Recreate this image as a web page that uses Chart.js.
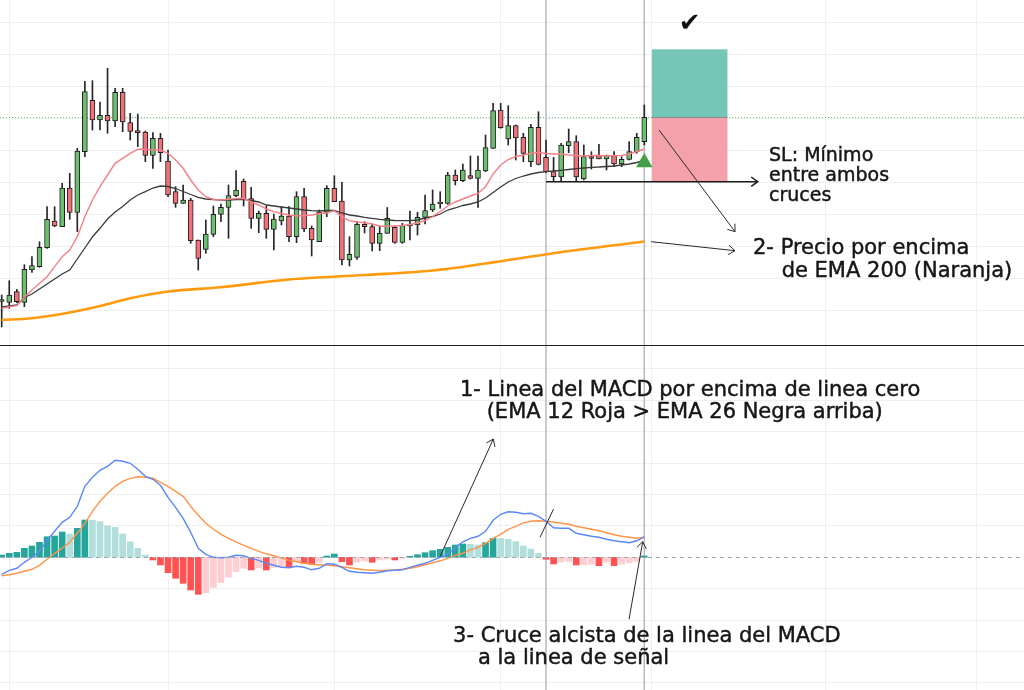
<!DOCTYPE html>
<html>
<head>
<meta charset="utf-8">
<script src="https://cdn.jsdelivr.net/npm/chart.js@4.4.1/dist/chart.umd.min.js"></script>
<style>
  html, body { margin: 0; padding: 0; background: #ffffff; }
  #wrap { width: 1024px; height: 690px; position: relative; overflow: hidden; }
</style>
</head>
<body>
<div id="wrap"><canvas id="chart" width="1024" height="690"></canvas></div>
<script>
// ---- Price candles (one entry per session) ----
const opens  = [43.5,42.7,53.3,42.7,75,78.3,97.3,124,118.3,157, 132.7,193.3,244.7,225,229.7,224,252.7,222.5,214.3,213, 189.7,206.7,184,153.3,141.7,145,105,95.7,110.7,130.7, 137.7,149.3,163.7,146.3,126.7,131.7,115.7,124,129,108.3, 148.3,116.7,103.3,132.7,156.7,144,85,87.7,120.7,118.3, 101.7,111.7,117.7,102.7,119,120,127.7,135,141,141.7, 170,164.3,169.3,166.7,174,196.7,235,206,219.3,207.7, 183.3,217.7,187.7,173.3,168,199.3,203.3,166,188.5,189.3, 186,189.3,181,185.7,193.3,203.3];
const highs  = [50,64.3,55.7,80.3,88.3,103.3,138.3,138.3,161.7,171.7, 196.7,263.7,264.3,243,276.7,256.7,256.7,231.7,231,214, 212.3,211.7,195,158.3,160,146.7,105,125,139,141, 160,174.3,166,157.7,134,139,131,138.3,138.3,153.3, 156.7,119,135,159.3,169.3,162.7,108.3,123.3,123.3,121, 119,137.5,119,121.7,134,132.7,150,155,153.3,172.7, 175,181,189,189,210,241.7,241.7,239.3,220,211.7, 220.7,233.3,205,187.7,201.7,216,209.3,200,193.3,200.7, 190,193.3,188.3,203.3,211.7,240];
const lows   = [18,36.7,42.3,38.3,72.7,77.7,96.7,118.3,118.3,125.7, 113.3,188.3,215,215,211.7,218.3,213.3,205,198.3,183.3, 176.7,183.3,148.3,137.7,141.7,101.7,75,91.7,108.3,123.3, 106.7,148.3,139,116.7,112.3,106.7,95,120,103.3,102.3, 113.3,89,103.3,128.3,143.3,80,79,85.7,112,94, 94.3,111.7,101.7,101.7,105,110,121,133.3,136.7,140.7, 160,163.3,166,137.7,173.3,196.7,216.7,200,185,183.3, 178.3,180,172.3,164,164,192.3,163.3,165,176,186, 175,178.3,178.3,185,191.7,200];
const closes = [45.5,50,43.3,75.7,79.3,97.7,125.7,119,157,132.7, 194,253.3,225,229.7,224,252.7,223,213.5,212.3,189.7, 206.7,192.3,150,141.7,145,104.3,86.7,111,130.7,137.7, 149.3,155,146.3,126.7,131.7,115.7,126,129,108.3,148.3, 116,105,133,156.7,143.3,85,90.7,120.7,118.3,101.7, 111.7,126.7,102.7,119.3,121,127.7,134.3,141,143,170, 164.3,175,166.7,175,197.3,234.3,217.3,219.3,207,191.7, 217.7,180.7,173.3,168.3,200,203.3,168,188.3,186.5,186, 189.3,181,185.7,193.3,207.7,227.7];

// ---- Moving averages on price ----
const emaFast = [36.7,38.3,39.3,47.7,55,61.7,68.3,78.3,88.3,95, 108.3,128.3,145,158.3,170,181.7,186.7,191.7,195.7,196, 195,195,191.7,185,176.7,165,155,148.3,145.5,145, 145.7,146.5,146.7,143,140,136,133.3,131.5,130,129, 129.5,130,131.5,132,134.3,128,124.3,123,122.3,121, 119,118.5,119,119.5,120.5,122,124.5,128.5,133.5,139, 143,146,149,151.7,158.3,171,180,185.5,188.5,190, 191.5,192.5,191.5,191,191,190,189.5,189,189.5,189.5, 189.3,189.3,189.5,191,193.5,196];
const emaSlow = [38,39,40,47.5,51,56,61,66,71,75, 86,97,108,116.7,126,133,138.5,145,150,153.3, 157,159,158.5,156.5,153.5,150.5,147.7,146,145.5,145, 145,145.5,145.7,144.5,143,140,139,138,137,136, 135,134.3,134,134.5,134.5,132,130,129,127.7,126.7, 125.7,125,124.5,124.3,124.3,125,127,128.5,131,135, 137,139.5,141,143,147,152.5,158,163,166.5,169, 171,172.5,173.3,174,174.7,175.5,176.3,177,177.7,178, 178.5,179,180,181,182.5,184.5];
const ema200Bars = [0, 4, 9, 13, 17, 22, 29, 38, 48, 57, 64, 73, 85];
const ema200     = [25, 26.7, 32.5, 39, 46.7, 53.5, 57.8, 65.5, 70, 74.5, 81.5, 91.8, 103.5];

// ---- MACD (12, 26, 9) ----
const macdLine = [-0.17,-0.13,-0.11,-0.05,0,0.06,0.17,0.26,0.35,0.40, 0.51,0.71,0.80,0.87,0.91,0.97,0.96,0.94,0.88,0.81, 0.78,0.72,0.60,0.50,0.39,0.25,0.09,0.03,0,-0.005, 0,0.02,0.015,-0.01,-0.03,-0.06,-0.08,-0.10,-0.105,-0.09, -0.10,-0.125,-0.11,-0.065,-0.07,-0.10,-0.14,-0.15,-0.155,-0.16, -0.15,-0.135,-0.13,-0.125,-0.10,-0.08,-0.06,-0.03,0,0.03, 0.10,0.155,0.19,0.21,0.26,0.37,0.43,0.455,0.45,0.435, 0.44,0.41,0.36,0.295,0.29,0.29,0.24,0.225,0.21,0.20, 0.18,0.165,0.155,0.145,0.165,0.205];
const signalLine = [-0.185,-0.175,-0.16,-0.14,-0.12,-0.08,-0.02,0.04,0.09,0.15, 0.24,0.34,0.46,0.56,0.64,0.71,0.76,0.79,0.805,0.80, 0.79,0.75,0.71,0.66,0.61,0.51,0.42,0.34,0.28,0.23, 0.19,0.155,0.12,0.09,0.06,0.035,0.015,-0.005,-0.03,-0.045, -0.06,-0.07,-0.077,-0.077,-0.085,-0.095,-0.105,-0.115,-0.125,-0.13, -0.134,-0.13,-0.127,-0.12,-0.11,-0.095,-0.075,-0.055,-0.035,-0.01, 0.02,0.04,0.075,0.10,0.14,0.19,0.23,0.28,0.31,0.345, 0.36,0.365,0.36,0.35,0.34,0.33,0.31,0.295,0.28,0.265, 0.245,0.225,0.21,0.20,0.19,0.20];
const histogram = [0.023,0.04,0.05,0.09,0.113,0.15,0.206,0.213,0.253,0.233, 0.29,0.373,0.37,0.356,0.313,0.30,0.233,0.156,0.09,0.023, -0.027,-0.077,-0.154,-0.21,-0.26,-0.327,-0.37,-0.354,-0.30,-0.254, -0.20,-0.144,-0.11,-0.127,-0.104,-0.127,-0.10,-0.094,-0.104,-0.044, -0.06,-0.07,-0.05,0.013,0.033,-0.044,-0.077,-0.047,-0.037,-0.05, -0.027,-0.017,-0.027,-0.01,0.01,0.026,0.046,0.066,0.08,0.10, 0.123,0.133,0.13,0.123,0.146,0.19,0.187,0.18,0.156,0.113, 0.083,0.04,-0.02,-0.067,-0.047,-0.04,-0.077,-0.075,-0.07,-0.084, -0.05,-0.084,-0.068,-0.055,-0.04,0.013];

// ---- Long signal and trade levels ----
const signalBars   = [85];
const signalMarks  = [182.5];
const tradeEntry   = 227.7;
const tradeTarget  = 295.7;
const tradeStop    = 163.3;

// ---- Axis grid positions ----
const monthStarts = [1, 22, 44, 66, 86, 109, 129];
const priceGrid   = [34.5, 66.5, 98.5, 130.5, 162.5, 194.5, 226.5, 258.5, 290.5, 322.5];
const macdGrid    = [1.884, 1.570, 1.256, 0.942, 0.628, 0.314, -0.314, -0.628, -0.942, -1.256];

// ---- Look ----
const UP = '#6cbf6c', DOWN = '#f17179', EDGE = '#1e1e1e';
const GRID = '#efefef';
const H_UP = '#26a69a', H_UP_FADE = '#b2dfdb', H_DN = '#ff5252', H_DN_FADE = '#ffcdd2';

const bars = closes.map((_, i) => i);
const bodyData = bars.map(i => ({ x: i, y: [opens[i], closes[i]] }));
const wickData = bars.map(i => ({ x: i, y: [lows[i], highs[i]] }));
const bodyColors = bars.map(i => closes[i] >= opens[i] ? UP : DOWN);
const histColors = histogram.map((v, i) => {
  const prev = i > 0 ? histogram[i - 1] : -Infinity;
  if (v >= 0) return v >= prev ? H_UP : H_UP_FADE;
  return v < prev ? H_DN : H_DN_FADE;
});
const series = arr => arr.map((v, i) => ({ x: i, y: v }));

// Annotation layout, in bar index / price / MACD units
const notes = {
  markers: [72, 85],
  box: { from: 86, to: 96 },
  check: { x: 91, y: 320.5 },
  slArrow: { from: 72, to: 100 },
  toEma: [{ x1: 86.95, y1: 215, x2: 97, y2: 113.3 }, { x1: 85.9, y1: 103.3, x2: 97, y2: 94.3 }],
  macdArrows: [
    { x1: 57.98, y1: 0.006, x2: 65.03, y2: 1.183, head: true },
    { x1: 71.2, y1: 0.2, x2: 73.0, y2: 0.483, head: false },
    { x1: 82.98, y1: -0.62, x2: 84.79, y2: 0.156, head: true }
  ],
  priceText: [
    { t: 'SL: Mínimo', x: 101.5, y: 184.4, s: 19 },
    { t: 'entre ambos', x: 101.5, y: 164.0, s: 19 },
    { t: 'cruces', x: 101.5, y: 143.6, s: 19 },
    { t: '2- Precio por encima', x: 99.38, y: 91, s: 21 },
    { t: 'de EMA 200 (Naranja)', x: 103.17, y: 68, s: 21 }
  ],
  macdText: [
    { t: '1- Linea del MACD por encima de linea cero', x: 60.62, y: 1.618, s: 21 },
    { t: '(EMA 12 Roja > EMA 26 Negra arriba)', x: 64.15, y: 1.398, s: 21 },
    { t: '3- Cruce alcista de la linea del MACD', x: 59.7, y: -0.847, s: 21 },
    { t: 'a la linea de señal', x: 63.0, y: -1.067, s: 21 }
  ]
};

function arrow(ctx, x1, y1, x2, y2, head) {
  ctx.beginPath(); ctx.moveTo(x1, y1); ctx.lineTo(x2, y2); ctx.stroke();
  if (!head) return;
  const a = Math.atan2(y2 - y1, x2 - x1), L = 8, w = Math.PI / 5;
  ctx.beginPath();
  ctx.moveTo(x2 - L * Math.cos(a - w), y2 - L * Math.sin(a - w));
  ctx.lineTo(x2, y2);
  ctx.lineTo(x2 - L * Math.cos(a + w), y2 - L * Math.sin(a + w));
  ctx.stroke();
}

// slightly heavier text than the plain regular face
function label(ctx, text, px, py) {
  ctx.fillText(text, px, py);
  ctx.strokeText(text, px, py);
}

const overlay = {
  id: 'overlay',
  beforeDatasetsDraw(chart) {
    const { ctx, chartArea: A } = chart;
    const { x, y } = chart.scales;
    ctx.save();
    // entry level
    ctx.strokeStyle = 'rgba(76,175,80,0.8)'; ctx.lineWidth = 1; ctx.setLineDash([1, 2]);
    const ey = Math.round(y.getPixelForValue(tradeEntry)) + 0.5;
    ctx.beginPath(); ctx.moveTo(A.left, ey); ctx.lineTo(A.right, ey); ctx.stroke();
    ctx.setLineDash([]);
    // vertical markers through both panes
    ctx.strokeStyle = '#b7b9c0'; ctx.lineWidth = 1.5;
    notes.markers.forEach(b => {
      const vx = x.getPixelForValue(b);
      ctx.beginPath(); ctx.moveTo(vx, A.top); ctx.lineTo(vx, A.bottom); ctx.stroke();
    });
    // long position box
    const bx1 = x.getPixelForValue(notes.box.from), bx2 = x.getPixelForValue(notes.box.to);
    const yT = y.getPixelForValue(tradeTarget), yE = y.getPixelForValue(tradeEntry), yS = y.getPixelForValue(tradeStop);
    ctx.fillStyle = '#76c6b7'; ctx.fillRect(bx1, yT, bx2 - bx1, yE - yT);
    ctx.fillStyle = '#f5a1a9'; ctx.fillRect(bx1, yE, bx2 - bx1, yS - yE);
    ctx.strokeStyle = '#8c8c8c'; ctx.lineWidth = 1;
    ctx.beginPath(); ctx.moveTo(bx1, ey); ctx.lineTo(bx2, ey); ctx.stroke();
    ctx.restore();
  },
  afterDatasetsDraw(chart) {
    const { ctx, chartArea: A } = chart;
    const { x, y, m } = chart.scales;
    ctx.save();
    // MACD zero line
    const zy = Math.round(m.getPixelForValue(0)) + 0.5;
    ctx.strokeStyle = '#a3a6ad'; ctx.lineWidth = 1; ctx.setLineDash([4, 4]);
    ctx.beginPath(); ctx.moveTo(A.left, zy); ctx.lineTo(A.right, zy); ctx.stroke();
    ctx.setLineDash([]);
    // pane separator
    const sy = Math.round(y.getPixelForValue(0)) + 0.5;
    ctx.strokeStyle = '#1f1f1f'; ctx.lineWidth = 1;
    ctx.beginPath(); ctx.moveTo(A.left, sy); ctx.lineTo(A.right, sy); ctx.stroke();
    // stop-loss pointer
    ctx.strokeStyle = '#1a1a1a'; ctx.lineWidth = 1.5;
    const slY = y.getPixelForValue(tradeStop);
    arrow(ctx, x.getPixelForValue(notes.slArrow.from), slY, x.getPixelForValue(notes.slArrow.to), slY, true);
    // pointers
    ctx.lineWidth = 1; ctx.strokeStyle = '#2a2a2a';
    notes.toEma.forEach(a => arrow(ctx, x.getPixelForValue(a.x1), y.getPixelForValue(a.y1), x.getPixelForValue(a.x2), y.getPixelForValue(a.y2), true));
    notes.macdArrows.forEach(a => arrow(ctx, x.getPixelForValue(a.x1), m.getPixelForValue(a.y1), x.getPixelForValue(a.x2), m.getPixelForValue(a.y2), a.head));
    // labels
    ctx.fillStyle = '#161616'; ctx.strokeStyle = '#161616'; ctx.lineWidth = 0.45;
    ctx.textBaseline = 'alphabetic'; ctx.textAlign = 'left';
    notes.priceText.forEach(n => { ctx.font = n.s + 'px "DejaVu Sans"'; label(ctx, n.t, x.getPixelForValue(n.x), y.getPixelForValue(n.y)); });
    notes.macdText.forEach(n => { ctx.font = n.s + 'px "DejaVu Sans"'; label(ctx, n.t, x.getPixelForValue(n.x), m.getPixelForValue(n.y)); });
    // target reached
    ctx.font = 'bold 26px "DejaVu Sans"'; ctx.textAlign = 'center'; ctx.textBaseline = 'middle';
    ctx.fillStyle = '#111111';
    ctx.fillText('\u2714', x.getPixelForValue(notes.check.x), y.getPixelForValue(notes.check.y));
    ctx.restore();
  }
};

const hiddenAxis = (min, max, grid, pos) => ({
  type: 'linear', position: pos, min, max, offset: false,
  grid: { color: GRID, drawTicks: false, offset: false },
  border: { display: false },
  ticks: { display: false },
  afterBuildTicks: s => { s.ticks = grid.map(v => ({ value: v })); },
  afterFit: s => { if (s.isHorizontal()) s.height = 0; else s.width = 0; }
});

new Chart(document.getElementById('chart'), {
  type: 'bar',
  data: {
    datasets: [
      { type: 'line', label: 'Señal larga', data: signalBars.map((b, k) => ({ x: b, y: signalMarks[k] })), yAxisID: 'y',
        showLine: false, pointStyle: 'triangle', pointRadius: 9.5, pointBackgroundColor: '#43a047', pointBorderWidth: 0, order: 0 },
      { type: 'line', label: 'EMA 12', data: series(emaFast), yAxisID: 'y', borderColor: '#f57f86', borderWidth: 1.4, pointRadius: 0, tension: 0, order: 1 },
      { type: 'line', label: 'EMA 26', data: series(emaSlow), yAxisID: 'y', borderColor: '#3a3a3a', borderWidth: 1.3, pointRadius: 0, tension: 0, order: 2 },
      { type: 'line', label: 'EMA 200', data: ema200Bars.map((b, k) => ({ x: b, y: ema200[k] })), yAxisID: 'y', borderColor: '#ff9a0d', borderWidth: 2.6,
        pointRadius: 0, cubicInterpolationMode: 'monotone', order: 3 },
      { label: 'Velas', data: bodyData, yAxisID: 'y', backgroundColor: bodyColors, borderColor: EDGE, borderWidth: 1, borderSkipped: false, barThickness: 5, order: 4 },
      { label: 'Mechas', data: wickData, yAxisID: 'y', backgroundColor: '#262626', borderWidth: 0, barThickness: 1, order: 5 },
      { type: 'line', label: 'MACD', data: series(macdLine), yAxisID: 'm', borderColor: '#5b87f7', borderWidth: 1.4, pointRadius: 0, tension: 0, order: 6 },
      { type: 'line', label: 'Señal', data: series(signalLine), yAxisID: 'm', borderColor: '#ff9448', borderWidth: 1.4, pointRadius: 0, tension: 0, order: 7 },
      { label: 'Histograma', data: series(histogram), yAxisID: 'm', backgroundColor: histColors, borderWidth: 0, barThickness: 6, order: 8 }
    ]
  },
  options: {
    responsive: false, animation: false, devicePixelRatio: 1, events: [],
    layout: { padding: 0, autoPadding: false },
    plugins: { legend: { display: false }, tooltip: { enabled: false } },
    datasets: { bar: { grouped: false } },
    scales: {
      x: hiddenAxis(-0.225, 135.225, monthStarts, 'bottom'),
      y: hiddenAxis(-345, 345, priceGrid, 'left'),
      m: hiddenAxis(-1.327, 5.573, macdGrid, 'left')
    }
  },
  plugins: [overlay]
});
</script>
</body>
</html>
